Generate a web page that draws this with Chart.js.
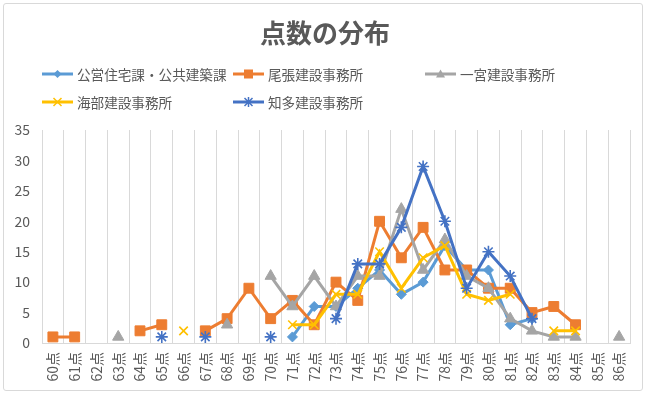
<!DOCTYPE html>
<html>
<head>
<meta charset="utf-8">
<script src="https://cdn.jsdelivr.net/npm/chart.js@4.4.1/dist/chart.umd.min.js"></script>
<style>
  html,body{margin:0;padding:0;background:#fff;}
  #wrap{position:relative;width:650px;height:397px;overflow:hidden;font-family:"Noto Sans CJK JP","Noto Sans",sans-serif;}
  #c{position:absolute;left:0;top:0;}
  #frame{position:absolute;left:3px;top:3px;width:640px;height:388px;border:1px solid #D9D9D9;border-radius:3px;box-sizing:border-box;pointer-events:none;}
  #title{position:absolute;left:0;width:650px;top:14px;text-align:center;font-size:26px;font-weight:bold;color:#595959;line-height:36px;}
  .lg{position:absolute;display:flex;align-items:center;font-size:13.6px;color:#595959;line-height:20px;white-space:nowrap;}
  .lg svg{margin-right:4px;}
</style>
</head>
<body>
<div id="wrap">
  <canvas id="c" width="650" height="397"></canvas>
  <div id="frame"></div>
  <div id="title">点数の分布</div>
</div>
<script>
const categories = ['60点','61点','62点','63点','64点','65点','66点','67点','68点','69点','70点','71点','72点','73点','74点','75点','76点','77点','78点','79点','80点','81点','82点','83点','84点','85点','86点'];
const seriesNames = ['公営住宅課・公共建築課','尾張建設事務所','一宮建設事務所','海部建設事務所','知多建設事務所'];
//                 60   61   62   63   64   65   66   67   68   69   70 71 72 73 74 75 76 77 78 79 80 81 82 83   84   85   86
const koei     = [null,null,null,null,null,null,null,null,null,null,null,1, 6, 6, 9, 12,8, 10,16,12,12,3, 4, null,null,null,null];
const owari    = [1,   1,   null,null,2,   3,   null,2,   4,   9,   4, 7, 3, 10,7, 20,14,19,12,12,9, 9, 5, 6,   3,   null,null];
const ichinomiya=[null,null,null,1,   null,null,null,null,3,   null,11,6, 11,6, 11,11,22,12,17,11,9, 4, 2, 1,   1,   null,1];
const kaifu    = [null,null,null,null,null,null,2,   null,null,null,null,3, 3, 8, 8, 15,9, 14,16,8, 7, 8, null,2, 2,   null,null];
const chita    = [null,null,null,null,null,1,   null,1,   null,null,1, null,null,4,13,13,19,29,20,9, 15,11,4, null,null,null,null];
const yTicks = [0,5,10,15,20,25,30,35];

const colors = ['#5B9BD5','#ED7D31','#A5A5A5','#FFC000','#4472C4'];
const styles = ['rectRot','rect','triangle','crossRot','star'];
const radii = [5,7,6.5,6,6];
const pbw = [1,1,1,1.6,1.6];
const values = [koei, owari, ichinomiya, kaifu, chita];

Chart.defaults.font.family = '"Noto Sans CJK JP","Noto Sans",sans-serif';

const datasets = values.map((v,i)=>({
  label: seriesNames[i],
  data: v,
  borderColor: colors[i],
  backgroundColor: colors[i],
  borderWidth: 3,
  pointStyle: styles[i],
  pointRadius: radii[i],
  pointBorderWidth: pbw[i],
  pointBorderColor: colors[i],
  pointBackgroundColor: colors[i],
  tension: 0,
  spanGaps: false,
  order: 5 - i
}));

new Chart(document.getElementById('c'), {
  type: 'line',
  data: { labels: categories, datasets },
  options: {
    responsive: false,
    animation: false,
    events: [],
    layout: { padding: { top: 130, left: 0, right: 20, bottom: 4 } },
    plugins: { legend: { display: false }, title: { display: false }, tooltip: { enabled: false } },
    scales: {
      x: {
        offset: true,
        grid: { offset: true, color: '#D9D9D9', drawTicks: false, lineWidth: 1 },
        border: { display: true, color: '#D9D9D9' },
        ticks: { autoSkip: false, maxRotation: 90, minRotation: 90, color: '#595959', font: { size: 14 }, padding: 9 },
        afterFit(s) { s.height = 50; }
      },
      y: {
        min: 0, max: 35,
        afterBuildTicks(s) { s.ticks = yTicks.map(v => ({ value: v })); },
        grid: { display: false, drawTicks: false },
        border: { display: false },
        ticks: { color: '#595959', font: { size: 14 }, padding: 12 },
        afterFit(s) { s.width = 42; }
      }
    }
  }
});

// HTML legend (grid layout as in the reference)
const legendPos = [[42,64],[233,64],[425,64],[42,92],[233,92]];
function markerSvg(i){
  const c = colors[i];
  let m = '';
  const cx = 15.5, cy = 8;
  if (styles[i]==='rectRot') m = `<polygon points="${cx},${cy-4} ${cx+4},${cy} ${cx},${cy+4} ${cx-4},${cy}" fill="${c}"/>`;
  else if (styles[i]==='rect') m = `<rect x="${cx-4.5}" y="${cy-4.5}" width="9" height="9" fill="${c}"/>`;
  else if (styles[i]==='triangle') m = `<polygon points="${cx},${cy-4.5} ${cx+4.5},${cy+3.5} ${cx-4.5},${cy+3.5}" fill="${c}"/>`;
  else if (styles[i]==='crossRot') m = `<path d="M${cx-4},${cy-4}L${cx+4},${cy+4}M${cx+4},${cy-4}L${cx-4},${cy+4}" stroke="${c}" stroke-width="1.5"/>`;
  else m = `<path d="M${cx-4},${cy-4}L${cx+4},${cy+4}M${cx+4},${cy-4}L${cx-4},${cy+4}M${cx},${cy-5}L${cx},${cy+5}" stroke="${c}" stroke-width="1.5"/>`;
  return `<svg width="31" height="16" viewBox="0 0 31 16"><line x1="0" y1="8" x2="31" y2="8" stroke="${c}" stroke-width="3"/>${m}</svg>`;
}
const wrap = document.getElementById('wrap');
seriesNames.forEach((name,i)=>{
  const d = document.createElement('div');
  d.className = 'lg';
  d.style.left = legendPos[i][0] + 'px';
  d.style.top = legendPos[i][1] + 'px';
  d.innerHTML = markerSvg(i) + '<span>' + name + '</span>';
  wrap.appendChild(d);
});
</script>
</body>
</html>
